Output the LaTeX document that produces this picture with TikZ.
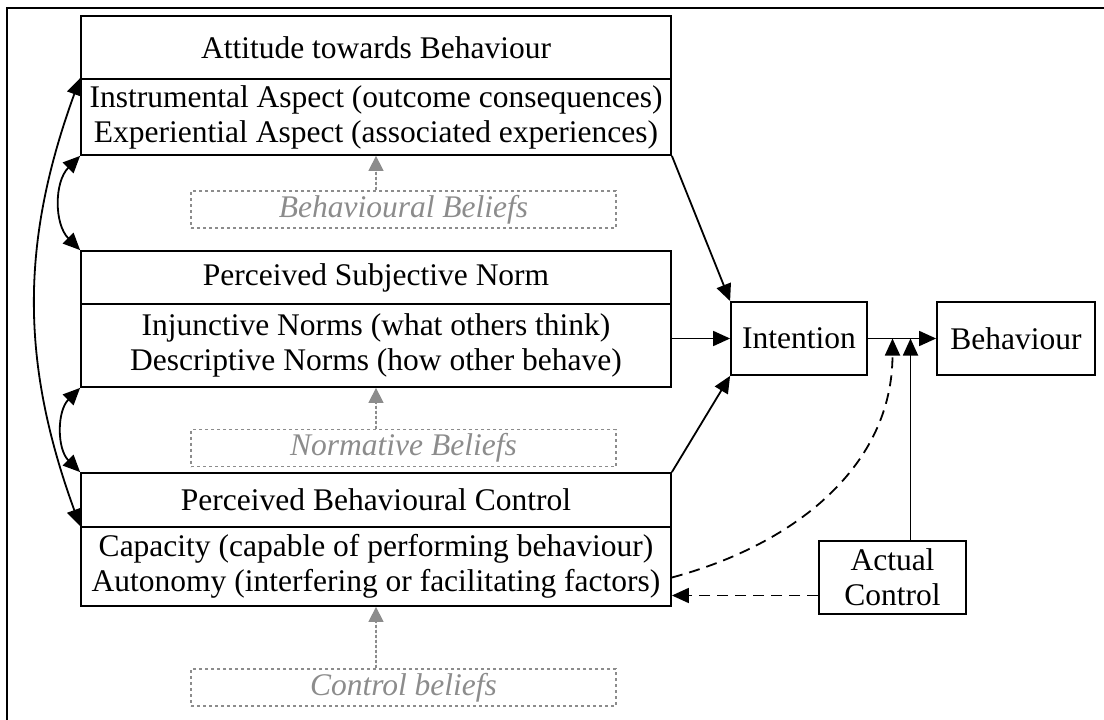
\documentclass[tikz,border=0pt]{standalone}
\usepackage{fontspec}
\setmainfont{Liberation Serif}
\usetikzlibrary{arrows.meta,calc}
\definecolor{beliefgray}{RGB}{140,140,140}
\begin{document}
\begin{tikzpicture}[x=1pt,y=-1pt,
  txt/.style={font=\fontsize{31.5}{35}\selectfont},
  box/.style={txt,draw,line width=1.8pt,minimum width=590pt,inner sep=0pt,align=center},
  smallbox/.style={txt,draw,line width=1.8pt,inner sep=0pt,align=center},
  belief/.style={draw=beliefgray,dash pattern=on 3pt off 3pt,line width=1.4pt,
    minimum width=425pt,minimum height=37pt,inner sep=0pt,text=beliefgray,
    font=\fontsize{31.5}{35}\selectfont\itshape},
  arr/.style={-{Triangle[length=17pt,width=15pt]},line width=1.8pt},
  darr/.style={arr,dash pattern=on 11pt off 7pt},
  biarr/.style={{Triangle[length=17pt,width=15pt]}-{Triangle[length=17pt,width=15pt]},line width=1.8pt},
  garr/.style={-{Triangle[length=15pt,width=15pt]},draw=beliefgray,fill=beliefgray,line width=1.4pt,dash pattern=on 3pt off 2pt}
]
\useasboundingbox (0,0) rectangle (1104,720);
\draw[line width=1.8pt] (1104,8) -- (7,8) -- (7,720);

% Attitude
\node[box,minimum height=63pt] (h1) at (376,47.5) {Attitude towards Behaviour};
\node[box,minimum height=76pt] (b1) at (376,117) {Instrumental Aspect (outcome consequences)\\Experiential Aspect (associated experiences)};
% Subjective norm
\node[box,minimum height=53pt] (h2) at (376,277.5) {Perceived Subjective Norm};
\node[box,minimum height=83pt] (b2) at (376,345.5) {Injunctive Norms (what others think)\\Descriptive Norms (how other behave)};
% Control
\node[box,minimum height=54pt] (h3) at (376,500) {Perceived Behavioural Control};
\node[box,minimum height=79pt] (b3) at (376,566.5) {Capacity (capable of performing behaviour)\\Autonomy (interfering or facilitating factors)};

% Beliefs
\node[belief] (bb) at (403.5,209.5) {Behavioural Beliefs};
\node[belief] (nb) at (403.5,448) {Normative Beliefs};
\node[belief] (cb) at (403.5,687.5) {Control beliefs};

\draw[garr] (b1.south |- bb.north) -- (b1.south);
\draw[garr] (b2.south |- nb.north) -- (b2.south);
\draw[garr] (b3.south |- cb.north) -- (b3.south);

% Intention, Behaviour, Actual control
\node[smallbox,minimum width=136pt,minimum height=73pt] (int) at (799,338.5) {Intention};
\node[smallbox,minimum width=158pt,minimum height=73pt] (beh) at (1016,338.5) {Behaviour};
\node[smallbox,minimum width=147pt,minimum height=73pt] (act) at (892.5,577.5) {Actual\\Control};

\draw[arr] (b1.south east) -- (int.north west);
\draw[arr] (int.west -| b2.east) -- (int.west);
\draw[arr] (h3.north east) -- (int.south west);
\draw[arr] (int.east) -- (beh.west);

\coordinate (j1) at (act.north |- int.east);
\coordinate (j2) at ($(j1)+(18,0)$);
\draw[arr] (j2 |- act.north) -- (j2);
\draw[darr] (b3.east |- act.west) to[out=15,in=-90] (j1);
\coordinate (ac) at ($(act.west)+(0,18)$);
\draw[darr] (ac) -- (b3.east |- ac);

% Correlation arcs
\draw[biarr] (b1.south west) to[bend right=45] (h2.north west);
\draw[biarr] (b2.south west) to[bend right=45] (h3.north west);
\draw[biarr] (b1.north west) to[bend right=20] (b3.north west);
\end{tikzpicture}
\end{document}
